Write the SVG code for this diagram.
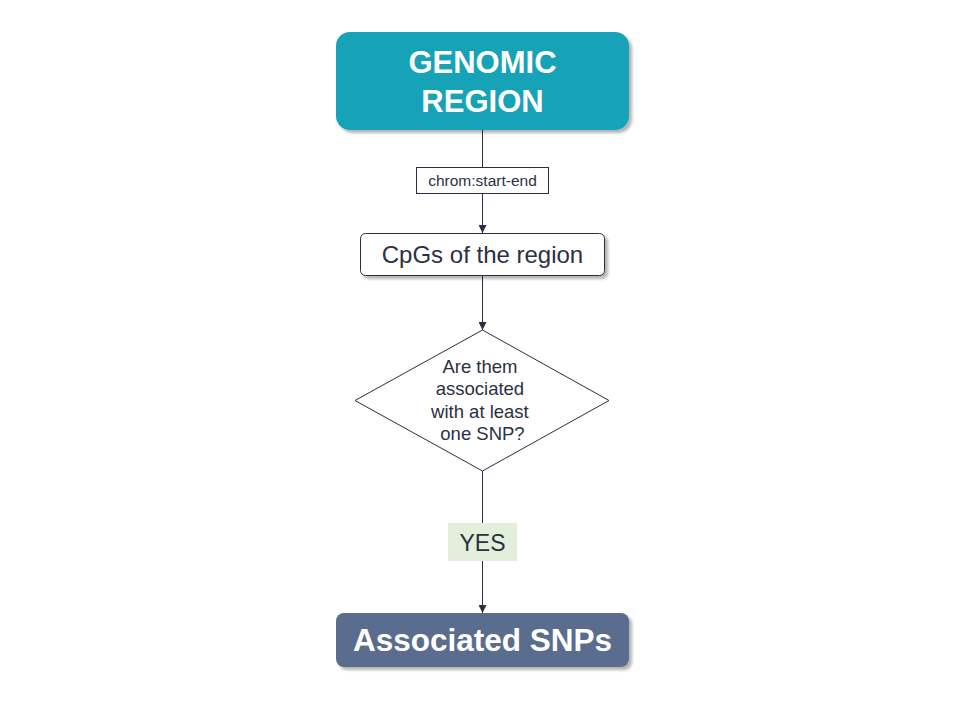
<svg xmlns="http://www.w3.org/2000/svg" width="960" height="720" viewBox="0 0 960 720">
<defs>
<filter id="sh" x="-10%" y="-10%" width="130%" height="140%">
<feGaussianBlur in="SourceAlpha" stdDeviation="1.5"/>
<feOffset dx="3" dy="3" result="b"/>
<feComponentTransfer><feFuncA type="linear" slope="0.3"/></feComponentTransfer>
<feMerge><feMergeNode/><feMergeNode in="SourceGraphic"/></feMerge>
</filter>
<marker id="arr" viewBox="0 0 10 10" refX="10" refY="5" markerWidth="8" markerHeight="8" markerUnits="userSpaceOnUse" orient="auto">
<path d="M0,0 L10,5 L0,10 z" fill="#2b2f3f"/>
</marker>
</defs>
<style>
text{font-family:"Liberation Sans",Arial,sans-serif;text-anchor:middle;}
.ln{stroke:#2b2f3f;stroke-width:1;fill:none;}
.dk{fill:#2b3142;}
.wt{fill:#ffffff;font-weight:bold;}
</style>
<rect width="960" height="720" fill="#ffffff"/>
<g id="connectors">
<path class="ln" d="M482.5,130 V167"/>
<path class="ln" d="M482.5,193 V233" marker-end="url(#arr)"/>
<path class="ln" d="M482.5,276 V330" marker-end="url(#arr)"/>
<path class="ln" d="M482.5,471 V523"/>
<path class="ln" d="M482.5,561 V613" marker-end="url(#arr)"/>
</g>
<g id="genomic-region">
<rect x="336" y="32" width="293" height="98" rx="14" fill="#18a2b7" filter="url(#sh)"/>
<text class="wt" x="482.5" y="73" font-size="31">GENOMIC</text>
<text class="wt" x="482.5" y="112" font-size="31">REGION</text>
</g>
<g id="label-chrom">
<rect x="416.5" y="167.5" width="132" height="26" fill="#ffffff" stroke="#2b2f3f" stroke-width="1"/>
<text class="dk" x="482.5" y="186" font-size="15.5">chrom:start-end</text>
</g>
<g id="cpgs">
<rect x="360.5" y="233.5" width="244" height="42" rx="5" fill="#ffffff" stroke="#2b2f3f" stroke-width="1" filter="url(#sh)"/>
<text class="dk" x="482.5" y="263" font-size="24">CpGs of the region</text>
</g>
<g id="decision">
<polygon points="482.5,330 609,400.5 482.5,471 355,400.5" fill="#ffffff" stroke="#2b2f3f" stroke-width="1"/>
<text class="dk" font-size="18.5">
<tspan x="482.5" y="373">Are them</tspan>
<tspan x="482.5" y="395">associated</tspan>
<tspan x="482.5" y="418">with at least</tspan>
<tspan x="482.5" y="440">one SNP?</tspan>
</text>
</g>
<g id="label-yes">
<rect x="448" y="523" width="69" height="38" fill="#e2efda"/>
<text class="dk" x="482.5" y="551" font-size="23">YES</text>
</g>
<g id="associated-snps">
<rect x="336" y="613" width="293" height="54" rx="8" fill="#5a6d8e" filter="url(#sh)"/>
<text class="wt" x="482.5" y="651" font-size="31.5">Associated SNPs</text>
</g>
</svg>
